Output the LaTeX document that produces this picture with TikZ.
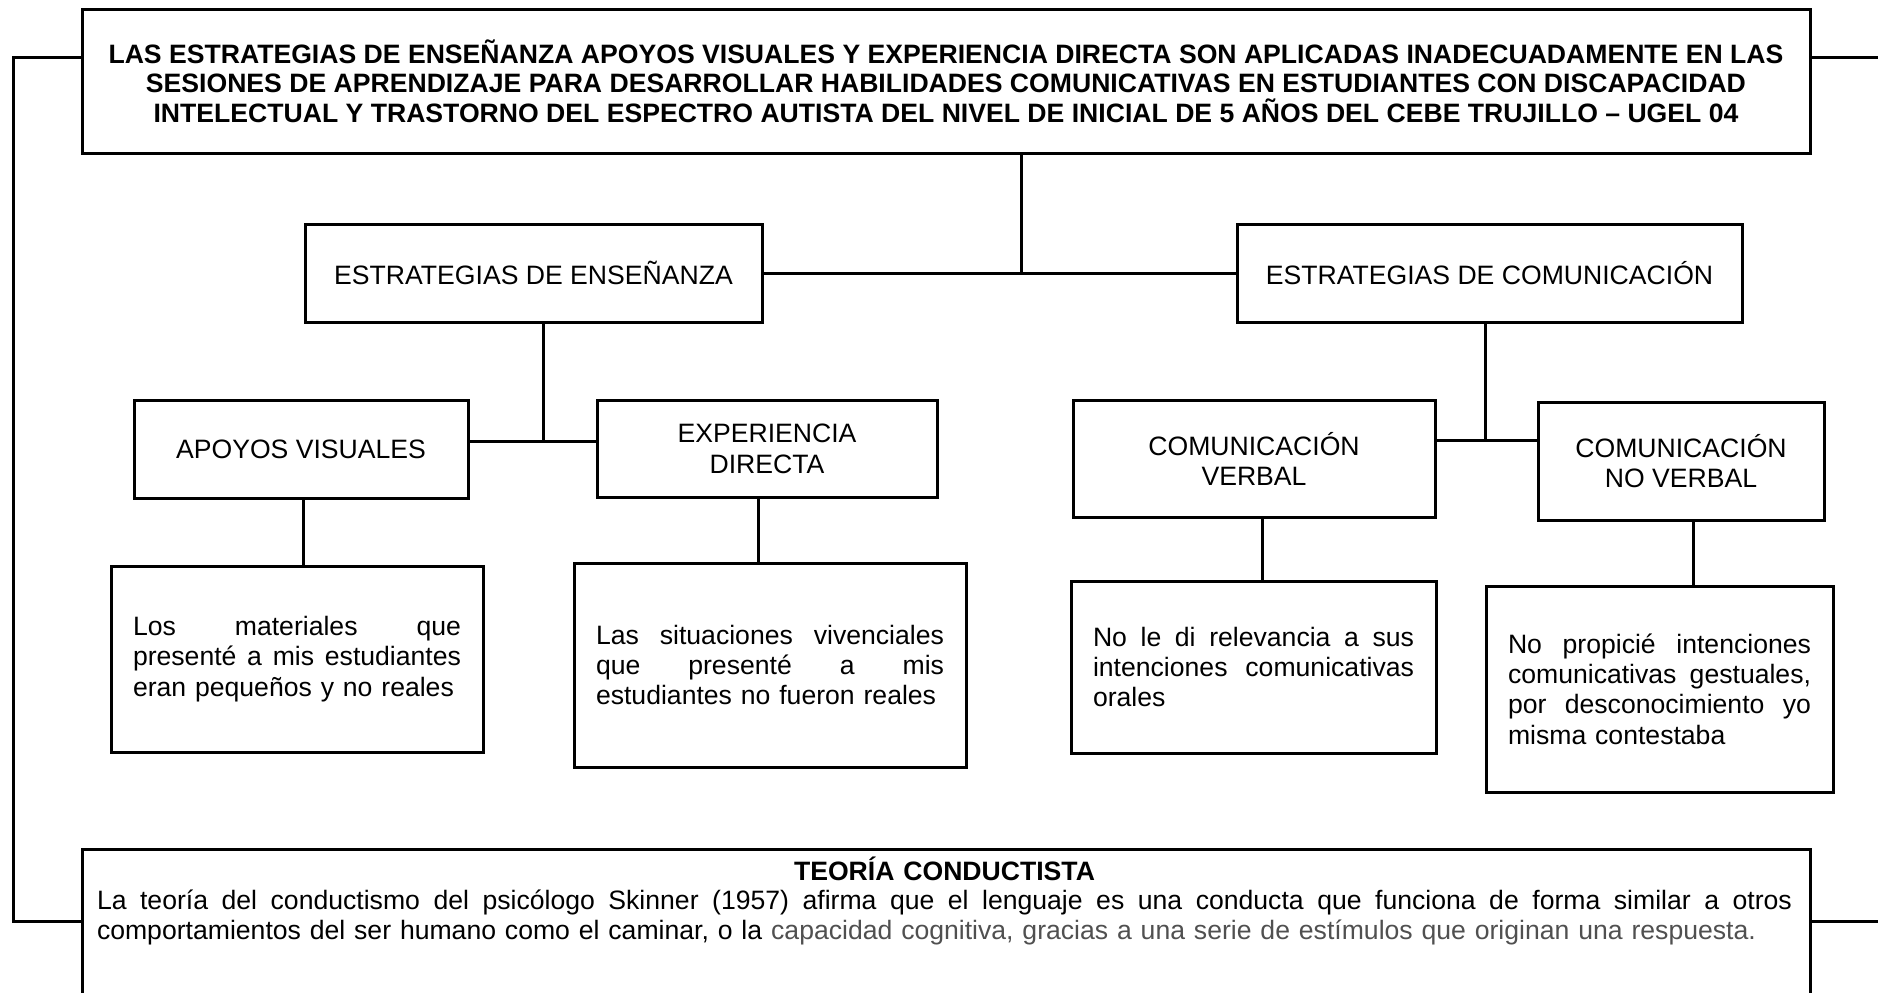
\documentclass[tikz,border=0pt]{standalone}
\usepackage{fontspec}
\setmainfont{Liberation Sans}
\definecolor{txtgray}{RGB}{80,80,80}
\newcommand{\fsz}{\fontsize{13.3pt}{15.2pt}\selectfont}
\newcommand{\jl}[1]{\leavevmode{\spaceskip=0pt\xspaceskip=0pt\makebox[\linewidth][s]{#1}}}
\tikzset{
  box/.style={draw, line width=1.5pt, inner sep=0pt, font=\fsz, align=center},
  parabox/.style={box, align=left},
  conn/.style={line width=1.5pt},
}
\begin{document}
\begin{tikzpicture}[x=0.5pt, y=-0.5pt]
\useasboundingbox (0,0) rectangle (1878,992);
\clip (0,0) rectangle (1878,992);
% main nodes
\node[box, font=\fontsize{13.3pt}{14.7pt}\selectfont\bfseries, minimum width=864pt, minimum height=72pt] (top) at (946,81)
 {LAS ESTRATEGIAS DE ENSEÑANZA APOYOS VISUALES Y EXPERIENCIA DIRECTA SON APLICADAS INADECUADAMENTE EN LAS\\
  SESIONES DE APRENDIZAJE PARA DESARROLLAR HABILIDADES COMUNICATIVAS EN ESTUDIANTES CON DISCAPACIDAD\\
  INTELECTUAL Y TRASTORNO DEL ESPECTRO AUTISTA DEL NIVEL DE INICIAL DE 5 AÑOS DEL CEBE TRUJILLO – UGEL 04};
\node[box, minimum width=228.5pt, minimum height=49pt] (ens) at (533.5,273) {ESTRATEGIAS DE ENSEÑANZA};
\node[box, minimum width=252.5pt, minimum height=49pt] (com) at (1489.5,273) {ESTRATEGIAS DE COMUNICACIÓN};
\node[box, minimum width=167pt, minimum height=49pt] (apo) at (301,449) {APOYOS VISUALES};
\node[box, minimum width=170pt, minimum height=48.5pt] (exp) at (767,449) {EXPERIENCIA\\DIRECTA};
\node[box, minimum width=181pt, minimum height=58.5pt] (ver) at (1254,459) {COMUNICACIÓN\\VERBAL};
\node[box, minimum width=143pt, minimum height=59pt] (nov) at (1681,461) {COMUNICACIÓN\\NO VERBAL};
\node[parabox, minimum width=186pt, minimum height=93pt, text width=164pt] (t1) at (297,659)
 {\jl{Los materiales que}\\\jl{presenté a mis estudiantes}\\eran pequeños y no reales};
\node[parabox, minimum width=196pt, minimum height=102pt, text width=174pt] (t2) at (770,665)
 {\jl{Las situaciones vivenciales}\\\jl{que presenté a mis}\\estudiantes no fueron reales};
\node[parabox, minimum width=182.5pt, minimum height=86pt, text width=160.5pt] (t3) at (1253.5,667)
 {\jl{No le di relevancia a sus}\\\jl{intenciones comunicativas}\\orales};
\node[parabox, minimum width=173.5pt, minimum height=103pt, text width=151.5pt] (t4) at (1659.5,689)
 {\jl{No propicié intenciones}\\\jl{comunicativas gestuales,}\\\jl{por desconocimiento yo}\\misma contestaba};
\node[box, minimum width=864pt, minimum height=80.5pt] (bot) at (946,929.5) {};
\node[inner sep=0pt, font=\fontsize{13.3pt}{14.9pt}\selectfont, text width=847.5pt, align=left, anchor=base] (botx) at (944.5,880)
 {\makebox[\linewidth][c]{\bfseries TEORÍA CONDUCTISTA}\\
  \jl{La teoría del conductismo del psicólogo Skinner (1957) afirma que el lenguaje es una conducta que funciona de forma similar a otros}\\
  comportamientos del ser humano como el caminar, o la {\color{txtgray}capacidad cognitiva, gracias a una serie de estímulos que originan una respuesta.}};
% outer connectors
\coordinate (L1) at (13,57);
\coordinate (L2) at (13,921);
\coordinate (R1) at (1890,57);
\coordinate (R2) at (1890,921);
\draw[conn] (top.west |- L1) -- (L1) -- (L2) -- (bot.west |- L2);
\draw[conn] (top.east |- R1) -- (R1);
\draw[conn] (bot.east |- R2) -- (R2);
% tree connectors
\coordinate (J0) at (1021,273);
\draw[conn] (top.south -| J0) -- (J0);
\draw[conn] (ens.east) -- (com.west);
\coordinate (J1) at (543,441);
\draw[conn] (ens.south -| J1) -- (J1);
\draw[conn] (apo.east |- J1) -- (exp.west |- J1);
\coordinate (J2) at (1485,440);
\draw[conn] (com.south -| J2) -- (J2);
\draw[conn] (ver.east |- J2) -- (nov.west |- J2);
\coordinate (V1) at (303,0);
\coordinate (V2) at (758,0);
\coordinate (V3) at (1262,0);
\coordinate (V4) at (1693,0);
\draw[conn] (apo.south -| V1) -- (t1.north -| V1);
\draw[conn] (exp.south -| V2) -- (t2.north -| V2);
\draw[conn] (ver.south -| V3) -- (t3.north -| V3);
\draw[conn] (nov.south -| V4) -- (t4.north -| V4);
\end{tikzpicture}
\end{document}
